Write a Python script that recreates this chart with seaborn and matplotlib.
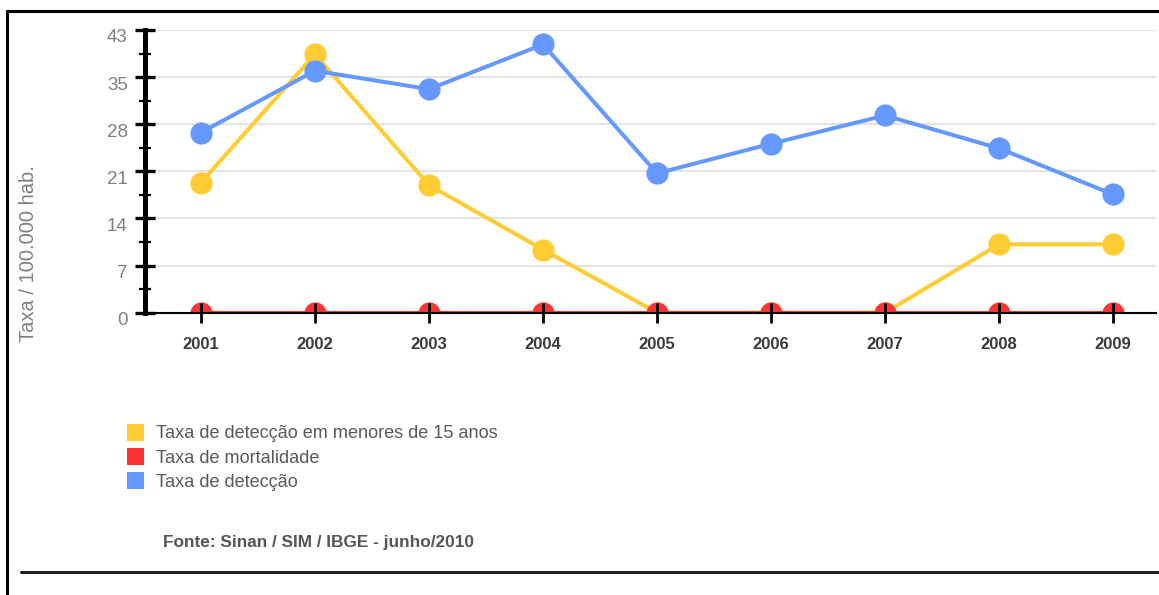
import matplotlib
matplotlib.use("Agg")
import matplotlib.pyplot as plt
import numpy as np
import pandas as pd
import seaborn as sns
from matplotlib.lines import Line2D
from matplotlib.patches import Patch
from matplotlib.ticker import AutoMinorLocator
from matplotlib.transforms import ScaledTranslation

# values
years = [2001, 2002, 2003, 2004, 2005, 2006, 2007, 2008, 2009]
taxa_menores_15 = [19.8, 39.3, 19.4, 9.6, 0.0, 0.0, 0.0, 10.4, 10.4]
taxa_mortalidade = [0.0, 0.0, 0.0, 0.0, 0.0, 0.0, 0.0, 0.0, 0.0]
taxa_deteccao = [27.4, 36.8, 34.0, 40.8, 21.2, 25.7, 30.0, 25.0, 18.0]

series_names = [
    "Taxa de detecção em menores de 15 anos",
    "Taxa de mortalidade",
    "Taxa de detecção",
]
series_colors = ["#ffcc33", "#ff3333", "#6699ff"]
ytick_labels = ["0", "7", "14", "21", "28", "35", "43"]
y_max = 43
source_text = "Fonte: Sinan / SIM / IBGE - junho/2010"

df = pd.concat(
    [
        pd.DataFrame({"ano": years, "taxa": vals, "serie": name})
        for name, vals in zip(series_names, [taxa_menores_15, taxa_mortalidade, taxa_deteccao])
    ],
    ignore_index=True,
)

sns.set_theme(style="white")
plt.rcParams["font.family"] = ["Liberation Sans", "DejaVu Sans"]

W, H = 1159, 595
fig = plt.figure(figsize=(W / 100, H / 100), dpi=100)
ax = fig.add_axes([145 / W, 1 - 312.7 / H, (1156 - 145) / W, (312.7 - 30) / H])

sns.lineplot(
    data=df,
    x="ano",
    y="taxa",
    hue="serie",
    hue_order=series_names,
    palette=series_colors,
    marker="o",
    markersize=16,
    markeredgewidth=0,
    linewidth=2.9,
    legend=False,
    ax=ax,
)

ax.set_xlim(2000.509, 2009.377)
ax.set_ylim(0, y_max)

# axis drawn above lines, grid drawn by hand below them
ax.set_axisbelow(False)
ax.grid(False)
y_ticks = np.linspace(0, y_max, len(ytick_labels))
for y in y_ticks[1:]:
    ax.axhline(y, color="#e4e4e4", linewidth=1.5, zorder=0.5)

ax.set_yticks(y_ticks)
ax.set_yticklabels(ytick_labels)
ax.yaxis.set_minor_locator(AutoMinorLocator(2))
ax.set_xticks(years)
ax.set_xticklabels([str(y) for y in years])

for side in ["top", "right"]:
    ax.spines[side].set_visible(False)
ax.spines["left"].set_linewidth(3.6)
ax.spines["left"].set_color("black")
ax.spines["bottom"].set_linewidth(1.5)
ax.spines["bottom"].set_color("black")

ax.tick_params(axis="y", which="both", left=True)
ax.tick_params(axis="x", which="major", bottom=True)
ax.tick_params(axis="y", which="major", direction="inout", length=14, width=2.4,
               color="black", pad=5.4, labelsize=13.5, labelcolor="#808080")
ax.tick_params(axis="y", which="minor", direction="inout", length=8, width=1.6, color="black")
ax.tick_params(axis="x", which="major", direction="inout", length=14.4, width=2.0,
               color="black", pad=10, labelsize=12, labelcolor="#3a3a3a")
for lab in ax.get_xticklabels():
    lab.set_fontweight("bold")
for lab in ax.get_yticklabels():
    lab.set_transform(lab.get_transform() + ScaledTranslation(0, -6 / 100, fig.dpi_scale_trans))

ax.set_xlabel("")
ax.set_ylabel("Taxa / 100.000 hab.", fontsize=14.5, color="#808080")
ax.yaxis.set_label_coords((38 - 145) / 1011, (312.7 - 254) / 282.7)

handles = [Patch(facecolor=c, edgecolor="none") for c in series_colors]
fig.legend(
    handles,
    series_names,
    loc="upper left",
    bbox_to_anchor=(127 / W, 1 - 423.5 / H),
    frameon=False,
    fontsize=13.1,
    labelcolor="#5a5a5a",
    borderpad=0,
    borderaxespad=0,
    handlelength=0.95,
    handleheight=1.1,
    handletextpad=0.67,
    labelspacing=0.29,
)

fig.text(163 / W, 1 - 542 / H, source_text, ha="left", va="center",
         fontsize=12.4, fontweight="bold", color="#555555")

# page frame lines
fig.add_artist(Line2D([7 / W, 1], [1 - 10.7 / H, 1 - 10.7 / H], transform=fig.transFigure,
                      color="black", linewidth=2.2))
fig.add_artist(Line2D([7.3 / W, 7.3 / W], [0, 1 - 10.7 / H], transform=fig.transFigure,
                      color="black", linewidth=2.2))
fig.add_artist(Line2D([21 / W, 1], [1 - 572 / H, 1 - 572 / H], transform=fig.transFigure,
                      color="#222222", linewidth=2.2))

fig.savefig("out.png", dpi=100)
plt.close(fig)
